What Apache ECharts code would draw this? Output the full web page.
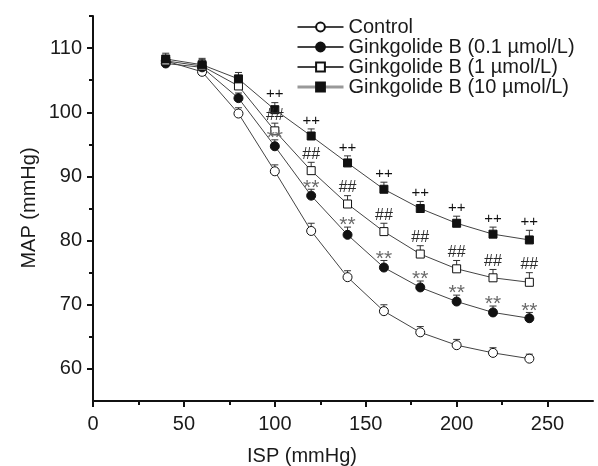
<!DOCTYPE html>
<html><head><meta charset="utf-8">
<script src="https://cdn.jsdelivr.net/npm/echarts@6/dist/echarts.min.js"></script>
<style>html,body{margin:0;padding:0;background:#fff}#c{width:598px;height:466px}</style>
</head><body><div id="c"></div>
<script>
const isp = [40, 60, 80, 100, 120, 140, 160, 180, 200, 220, 240];
const control = [108.0, 106.3, 99.8, 90.8, 81.5, 74.3, 69.0, 65.7, 63.7, 62.5, 61.6];
const gb01 = [107.6, 107.0, 102.2, 94.7, 87.0, 80.9, 75.8, 72.7, 70.5, 68.8, 67.9];
const gb1 = [108.0, 107.2, 104.1, 97.1, 90.9, 85.7, 81.4, 77.9, 75.6, 74.2, 73.5];
const gb10 = [108.3, 107.4, 105.2, 100.4, 96.3, 92.1, 88.0, 85.0, 82.7, 81.0, 80.1];
const errControl = [0.8, 0.9, 0.9, 1.0, 1.2, 1.0, 1.0, 0.9, 0.9, 0.8, 0.7];
const errGb01 = [0.8, 0.9, 0.8, 1.0, 1.0, 1.2, 1.1, 1.0, 1.0, 1.0, 0.9];
const errGb1 = [0.8, 1.0, 1.0, 1.2, 1.3, 1.3, 1.3, 1.3, 1.3, 1.3, 1.5];
const errGb10 = [0.9, 1.0, 1.0, 1.1, 1.1, 1.1, 1.1, 1.1, 1.1, 1.1, 1.5];
const marksGb01 = ['', '', '', '**', '**', '**', '**', '**', '**', '**', '**'];
const marksGb1 = ['', '', '', '##', '##', '##', '##', '##', '##', '##', '##'];
const marksGb10 = ['', '', '', '++', '++', '++', '++', '++', '++', '++', '++'];
const names = ['Control', 'Ginkgolide B (0.1 \u00b5mol/L)', 'Ginkgolide B (1 \u00b5mol/L)', 'Ginkgolide B (10 \u00b5mol/L)'];
const xTicks = [0, 50, 100, 150, 200, 250];
const xMinor = [25, 75, 125, 175, 225];
const yTicks = [60, 70, 80, 90, 100, 110];
const yMinor = [65, 75, 85, 95, 105, 115];

const FONT = 'Liberation Sans, Arial, sans-serif';
const TXT = '#1a1a1a';

const groups = [
  {vals: control, err: errControl, marks: null, symbol: 'circle', size: 9, fill: '#fff'},
  {vals: gb01, err: errGb01, marks: marksGb01, symbol: 'circle', size: 9, fill: '#111', mcol: '#6a6a6a', mfont: 21, mdy: 9},
  {vals: gb1, err: errGb1, marks: marksGb1, symbol: 'rect', size: 8, fill: '#fff', mcol: '#2a2a2a', mfont: 16, mdy: 0},
  {vals: gb10, err: errGb10, marks: marksGb10, symbol: 'rect', size: 8, fill: '#111', mcol: '#111', mfont: 15, mdy: -1}
];

const series = [];
groups.forEach((g, gi) => {
  series.push({
    type: 'custom', z: 1, silent: true,
    data: isp.map((x, i) => [x, g.vals[i], g.err[i]]),
    renderItem: (params, api) => {
      const x = api.value(0), y = api.value(1), e = api.value(2);
      const p0 = api.coord([x, y]);
      const p1 = api.coord([x, y + e]);
      return {type: 'group', children: [
        {type: 'line', shape: {x1: p0[0], y1: p0[1], x2: p1[0], y2: p1[1]}, style: {stroke: '#333', lineWidth: 1}},
        {type: 'line', shape: {x1: p1[0] - 3.5, y1: p1[1], x2: p1[0] + 3.5, y2: p1[1]}, style: {stroke: '#333', lineWidth: 1}}
      ]};
    }
  });
});
groups.forEach((g, gi) => {
  series.push({
    name: names[gi], type: 'line', z: 3,
    data: isp.map((x, i) => [x, g.vals[i]]),
    symbol: g.symbol, symbolSize: g.size, showAllSymbol: true,
    lineStyle: {color: '#444', width: 1},
    itemStyle: {color: g.fill, borderColor: '#111', borderWidth: 1},
    emphasis: {disabled: true}
  });
});
groups.forEach((g, gi) => {
  if (!g.marks) return;
  series.push({
    type: 'custom', z: 4, silent: true,
    data: isp.map((x, i) => [x, g.vals[i] + g.err[i]]),
    renderItem: (params, api) => {
      const txt = g.marks[params.dataIndex];
      if (!txt) return null;
      const p = api.coord([api.value(0), api.value(1)]);
      return {type: 'text', x: p[0], y: p[1] + g.mdy, style: {text: txt, fill: g.mcol, font: g.mfont + 'px ' + FONT, align: 'center', verticalAlign: 'bottom'}};
    }
  });
});

const chart = echarts.init(document.getElementById('c'), null, {renderer: 'canvas'});
chart.setOption({
  animation: false,
  backgroundColor: '#fff',
  grid: {left: 93, right: 5, top: 16, bottom: 65, containLabel: false},
  legend: {
    orient: 'vertical', left: 291, top: 12, itemWidth: 46, itemHeight: 11, itemGap: 0,
    textStyle: {fontSize: 20, lineHeight: 20, fontFamily: FONT, color: TXT},
    data: [
      {name: names[0]}, {name: names[1]}, {name: names[2]},
      {name: names[3], lineStyle: {color: '#999', width: 3}}
    ]
  },
  xAxis: [
    {type: 'value', min: 0, max: 275, splitLine: {show: false},
     axisLine: {lineStyle: {color: '#111', width: 2}},
     axisTick: {customValues: xTicks, length: 6, lineStyle: {color: '#111', width: 2}},
     axisLabel: {customValues: xTicks, fontSize: 20, fontFamily: FONT, color: TXT, margin: 13}},
    {type: 'value', min: 0, max: 275, position: 'bottom', splitLine: {show: false},
     axisLine: {show: false},
     axisTick: {customValues: xMinor, length: 4, lineStyle: {color: '#111', width: 2}},
     axisLabel: {show: false}}
  ],
  yAxis: [
    {type: 'value', min: 55, max: 115, splitLine: {show: false},
     axisLine: {lineStyle: {color: '#111', width: 2}},
     axisTick: {customValues: yTicks, length: 6, lineStyle: {color: '#111', width: 2}},
     axisLabel: {customValues: yTicks, fontSize: 20, fontFamily: FONT, color: TXT, margin: 11}},
    {type: 'value', min: 55, max: 115, position: 'left', splitLine: {show: false},
     axisLine: {show: false},
     axisTick: {customValues: yMinor, length: 4, lineStyle: {color: '#111', width: 2}},
     axisLabel: {show: false}}
  ],
  graphic: [
    {type: 'text', x: 302, y: 456, style: {text: 'ISP (mmHg)', font: '20px ' + FONT, fill: TXT, align: 'center', verticalAlign: 'middle'}},
    {type: 'text', x: 29, y: 208, rotation: Math.PI / 2, style: {text: 'MAP (mmHg)', font: '20px ' + FONT, fill: TXT, align: 'center', verticalAlign: 'middle'}}
  ],
  series: series
});
</script>
</body></html>
